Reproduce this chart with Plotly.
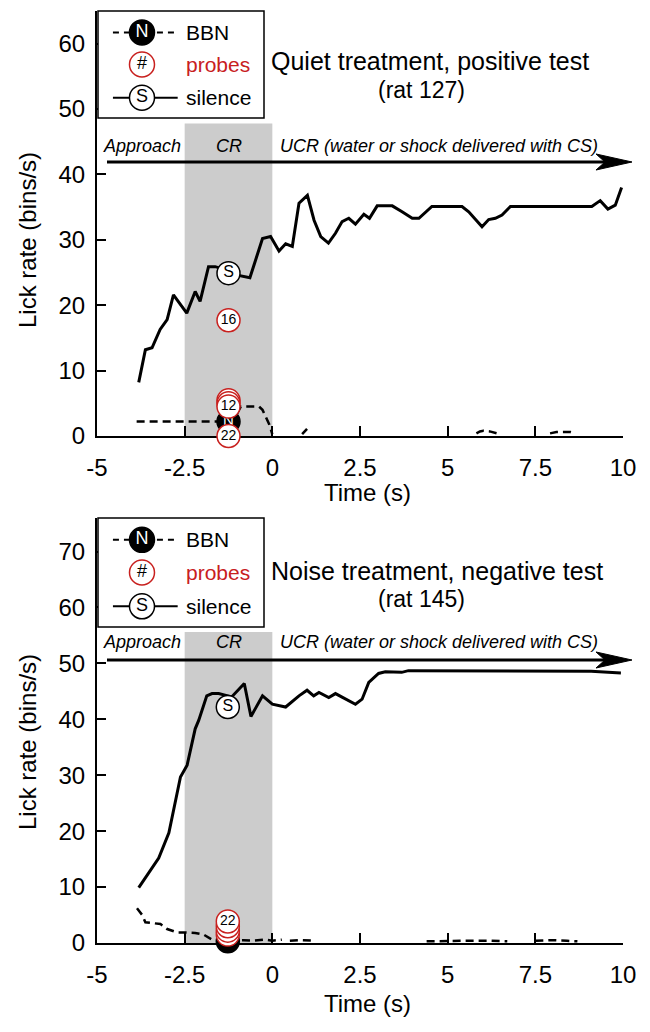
import plotly.graph_objects as go

# ---------------- data ----------------
# time axis ticks
tick_vals = [-5, -2.5, 0, 2.5, 5, 7.5, 10]
tick_text = ["-5", "-2.5", "0", "2.5", "5", "7.5", "10"]

# Top panel: Quiet treatment, positive test (rat 127)
top_silence_t = [-3.81, -3.62, -3.43, -3.2, -3.0, -2.82, -2.44, -2.2, -2.06, -1.82, -1.63, -1.25, -1.0,
                 -0.64, -0.28, -0.05, 0.19, 0.38, 0.57, 0.76, 1.0, 1.19, 1.38, 1.6, 1.8, 1.99, 2.18,
                 2.37, 2.61, 2.77, 2.99, 3.42, 3.7, 3.99, 4.18, 4.55, 5.41, 5.6, 5.98, 6.17, 6.36,
                 6.55, 6.79, 9.11, 9.35, 9.57, 9.78, 9.96]
top_silence_v = [8.2, 13.2, 13.5, 16.3, 17.8, 21.6, 18.8, 22.1, 20.6, 25.9, 25.9, 25.3, 24.6,
                 24.2, 30.2, 30.5, 28.3, 29.4, 29.0, 35.6, 36.8, 33.0, 30.5, 29.5, 31.0, 32.8, 33.3,
                 32.4, 33.9, 33.3, 35.2, 35.2, 34.3, 33.3, 33.3, 35.1, 35.1, 34.3, 32.0, 33.1, 33.3,
                 33.8, 35.1, 35.1, 36.0, 34.7, 35.3, 38.0]
top_bbn_t = [-3.87, -3.0, -2.5, -1.6, -1.25, -1.0, -0.9, -0.6, -0.38, -0.28, -0.09, 0.0, None,
             0.85, 0.92, 0.99, None, 5.82, 5.92, 6.02, 6.2, 6.4, None, 7.92, 8.1, 8.3, 8.5, 8.62]
top_bbn_v = [2.2, 2.2, 2.2, 2.2, 2.2, 3.5, 4.5, 4.5, 4.5, 4.0, 1.8, 0.3, None,
             0.3, 0.7, 1.1, None, 0.4, 0.7, 0.8, 0.7, 0.4, None, 0.4, 0.6, 0.6, 0.6, 0.4]
top_cr_time = -1.25
top_bbn_mean = [2.2]
top_probe_vals = [5.45, 5.0, 4.5, 17.7, 0.0]
top_probe_labels = ["", "", "12", "16", "22"]
top_silence_mean = [24.9]

# Bottom panel: Noise treatment, negative test (rat 145)
bot_silence_t = [-3.81, -3.52, -3.24, -2.95, -2.62, -2.43, -2.2, -2.1, -1.87, -1.72, -1.53, -1.16,
                 -0.8, -0.61, -0.28, 0.0, 0.38, 0.76, 0.99, 1.18, 1.33, 1.61, 1.8, 2.37, 2.56, 2.75,
                 3.03, 3.22, 3.69, 3.88, 9.09, 9.94]
bot_silence_v = [9.9, 12.6, 15.2, 19.7, 29.7, 31.8, 38.3, 39.8, 44.2, 44.6, 44.6, 44.0,
                 46.4, 40.5, 44.2, 42.7, 42.2, 44.2, 45.2, 44.2, 44.8, 43.9, 44.6, 42.7, 43.6, 46.6,
                 48.2, 48.5, 48.4, 48.7, 48.6, 48.3]
bot_bbn_t = [-3.86, -3.71, -3.62, -3.38, -3.19, -3.0, -2.72, -2.58, -2.2, -1.96, -1.72, -1.4, -1.1,
             -0.82, -0.54, -0.2, 0.0, 0.27, None, 0.5, 0.8, 1.2, None, 4.4, 5.0, 5.6, 6.2, 6.7,
             None, 7.5, 8.0, 8.4, 8.7]
bot_bbn_v = [6.2, 5.0, 3.7, 3.55, 3.4, 2.5, 1.9, 1.9, 1.8, 1.5, 0.6, 0.5, 0.4,
             0.5, 0.4, 0.6, 0.4, 0.6, None, 0.4, 0.5, 0.4, None, 0.3, 0.4, 0.4, 0.4, 0.3,
             None, 0.4, 0.5, 0.4, 0.3]
bot_cr_time = -1.27
bot_bbn_mean = [0.3]
bot_probe_vals = [1.5, 2.2, 3.0, 3.85]
bot_probe_labels = ["", "", "", "22"]
bot_silence_mean = [42.2]

panel_titles = ["Quiet treatment, positive test", "Noise treatment, negative test"]
panel_rats = ["(rat 127)", "(rat 145)"]
y_ranges = [[0, 65], [0, 76]]
y_ticks = [[0, 10, 20, 30, 40, 50, 60], [0, 10, 20, 30, 40, 50, 60, 70]]
cr_shade_top = [47.8, 55.6]
phase_label_y = [44.4, 53.8]

# ---------------- layout helpers ----------------
W, H = 650, 1032
ML, MR, MT, MB = 97, 27, 11, 89
PW, PH = W - ML - MR, H - MT - MB


def px_x(p):
    return (p - ML) / PW


def px_y(p):
    return (H - MB - p) / PH


FONT = "Liberation Sans, Arial, Helvetica, sans-serif"
RED = "#c8201e"
BLACK = "#000000"
GREY = "#cccccc"

fig = go.Figure()

panels = [
    dict(xa="x", ya="y", sil_t=top_silence_t, sil_v=top_silence_v, bbn_t=top_bbn_t, bbn_v=top_bbn_v,
         cr=top_cr_time, bbn_mean=top_bbn_mean, probes=top_probe_vals, plabels=top_probe_labels,
         sil_mean=top_silence_mean),
    dict(xa="x2", ya="y2", sil_t=bot_silence_t, sil_v=bot_silence_v, bbn_t=bot_bbn_t, bbn_v=bot_bbn_v,
         cr=bot_cr_time, bbn_mean=bot_bbn_mean, probes=bot_probe_vals, plabels=bot_probe_labels,
         sil_mean=bot_silence_mean),
]

MK = 23
for p in panels:
    fig.add_trace(go.Scatter(x=p["sil_t"], y=p["sil_v"], xaxis=p["xa"], yaxis=p["ya"], mode="lines",
                             line=dict(color=BLACK, width=3), showlegend=False, hoverinfo="skip"))
    fig.add_trace(go.Scatter(x=p["bbn_t"], y=p["bbn_v"], xaxis=p["xa"], yaxis=p["ya"], mode="lines",
                             line=dict(color=BLACK, width=2.5, dash="8px,5px"), connectgaps=False,
                             showlegend=False, hoverinfo="skip"))
    # BBN mean marker (behind)
    fig.add_trace(go.Scatter(x=[p["cr"]] * len(p["bbn_mean"]), y=p["bbn_mean"], xaxis=p["xa"], yaxis=p["ya"],
                             mode="markers+text", text=["N"] * len(p["bbn_mean"]), textposition="middle center",
                             textfont=dict(family=FONT, size=15, color="white"),
                             marker=dict(size=MK, color=BLACK, line=dict(color=BLACK, width=1.5)),
                             cliponaxis=False, showlegend=False, hoverinfo="skip"))
    # probes, drawn one by one so later ones sit on top
    for v, lab in zip(p["probes"], p["plabels"]):
        fig.add_trace(go.Scatter(x=[p["cr"]], y=[v], xaxis=p["xa"], yaxis=p["ya"],
                                 mode="markers+text", text=[lab], textposition="middle center",
                                 textfont=dict(family=FONT, size=14, color=BLACK),
                                 marker=dict(size=MK, color="white", line=dict(color=RED, width=1.5)),
                                 cliponaxis=False, showlegend=False, hoverinfo="skip"))
    fig.add_trace(go.Scatter(x=[p["cr"]] * len(p["sil_mean"]), y=p["sil_mean"], xaxis=p["xa"], yaxis=p["ya"],
                             mode="markers+text", text=["S"] * len(p["sil_mean"]), textposition="middle center",
                             textfont=dict(family=FONT, size=16, color=BLACK),
                             marker=dict(size=MK, color="white", line=dict(color=BLACK, width=1.5)),
                             cliponaxis=False, showlegend=False, hoverinfo="skip"))

# legend overlays (axes x3/y3 and x4/y4, range 0..1)
legend_rows_y = [0.80, 0.50, 0.19]
for xa, ya in [("x3", "y3"), ("x4", "y4")]:
    fig.add_trace(go.Scatter(x=[0.09, 0.48], y=[legend_rows_y[0]] * 2, xaxis=xa, yaxis=ya, mode="lines",
                             line=dict(color=BLACK, width=2, dash="6px,5px"), showlegend=False, hoverinfo="skip"))
    fig.add_trace(go.Scatter(x=[0.09, 0.48], y=[legend_rows_y[2]] * 2, xaxis=xa, yaxis=ya, mode="lines",
                             line=dict(color=BLACK, width=2), showlegend=False, hoverinfo="skip"))
    fig.add_trace(go.Scatter(x=[0.265], y=[legend_rows_y[0]], xaxis=xa, yaxis=ya, mode="markers+text",
                             text=["N"], textposition="middle center",
                             textfont=dict(family=FONT, size=18, color="white"),
                             marker=dict(size=25, color=BLACK, line=dict(color=BLACK, width=1.5)),
                             showlegend=False, hoverinfo="skip"))
    fig.add_trace(go.Scatter(x=[0.265], y=[legend_rows_y[1]], xaxis=xa, yaxis=ya, mode="markers+text",
                             text=["#"], textposition="middle center",
                             textfont=dict(family=FONT, size=18, color=BLACK),
                             marker=dict(size=25, color="white", line=dict(color=RED, width=1.5)),
                             showlegend=False, hoverinfo="skip"))
    fig.add_trace(go.Scatter(x=[0.265], y=[legend_rows_y[2]], xaxis=xa, yaxis=ya, mode="markers+text",
                             text=["S"], textposition="middle center",
                             textfont=dict(family=FONT, size=18, color=BLACK),
                             marker=dict(size=25, color="white", line=dict(color=BLACK, width=1.5)),
                             showlegend=False, hoverinfo="skip"))

legend_names = ["BBN", "probes", "silence"]
legend_colors = [BLACK, RED, BLACK]

annotations = []
shapes = []

top_dom = [px_y(436), 1.0]
bot_dom = [0.0, px_y(518)]
leg_top_dom = [px_y(118), px_y(11)]
leg_bot_dom = [px_y(627), px_y(518)]

for i, (xa, ya, lxa, lya) in enumerate([("x", "y", "x3", "y3"), ("x2", "y2", "x4", "y4")]):
    # CR shading
    shapes.append(dict(type="rect", xref=xa, yref=ya, x0=-2.5, x1=0, y0=0, y1=cr_shade_top[i],
                       fillcolor=GREY, line=dict(width=0), layer="below"))
    # phase labels
    for txt, xv, anchor in [("Approach", -3.72, "center"), ("CR", -1.25, "center"),
                            ("UCR (water or shock delivered with CS)", 0.16, "left")]:
        annotations.append(dict(x=xv, y=phase_label_y[i], xref=xa, yref=ya, text="<i>%s</i>" % txt,
                                showarrow=False, xanchor=anchor, yanchor="middle",
                                font=dict(family=FONT, size=18, color=BLACK)))
    # legend texts
    for j, (nm, col) in enumerate(zip(legend_names, legend_colors)):
        annotations.append(dict(x=0.52, y=legend_rows_y[j], xref=lxa, yref=lya, text=nm, showarrow=False,
                                xanchor="left", yanchor="middle", font=dict(family=FONT, size=21, color=col)))

# legend boxes
for dom in [leg_top_dom, leg_bot_dom]:
    shapes.append(dict(type="rect", xref="paper", yref="paper", x0=px_x(98), x1=px_x(264),
                       y0=dom[0], y1=dom[1], line=dict(color=BLACK, width=1.5), fillcolor="rgba(0,0,0,0)"))

# arrows (shaft + barbed head) in paper coordinates
for ay_px in [162, 660]:
    shapes.append(dict(type="line", xref="paper", yref="paper", x0=px_x(107), x1=px_x(612),
                       y0=px_y(ay_px), y1=px_y(ay_px), line=dict(color=BLACK, width=3)))
    path = "M %f,%f L %f,%f L %f,%f L %f,%f Z" % (
        px_x(632), px_y(ay_px), px_x(596), px_y(ay_px - 8), px_x(605), px_y(ay_px),
        px_x(596), px_y(ay_px + 8))
    shapes.append(dict(type="path", xref="paper", yref="paper", path=path,
                       fillcolor=BLACK, line=dict(color=BLACK, width=1)))

# panel titles
for i, (ty, ry) in enumerate([(61, 90), (571, 599)]):
    annotations.append(dict(x=px_x(269), y=px_y(ty), xref="paper", yref="paper", text=panel_titles[i],
                            showarrow=False, xanchor="left", yanchor="middle",
                            font=dict(family=FONT, size=25, color=BLACK)))
    annotations.append(dict(x=px_x(421), y=px_y(ry), xref="paper", yref="paper", text=panel_rats[i],
                            showarrow=False, xanchor="center", yanchor="middle",
                            font=dict(family=FONT, size=23, color=BLACK)))

# axis titles
for yc, xt in [(240, 492), (742, 1003)]:
    annotations.append(dict(x=px_x(27), y=px_y(yc), xref="paper", yref="paper", text="Lick rate (bins/s)",
                            showarrow=False, textangle=-90, xanchor="center", yanchor="middle",
                            font=dict(family=FONT, size=24, color=BLACK)))
    annotations.append(dict(x=px_x(367), y=px_y(xt), xref="paper", yref="paper", text="Time (s)",
                            showarrow=False, xanchor="center", yanchor="middle",
                            font=dict(family=FONT, size=24, color=BLACK)))

xcommon = dict(range=[-5, 10], tickvals=tick_vals, ticktext=tick_text, ticks="inside", ticklen=10,
               tickwidth=2, tickcolor=BLACK, showline=True, linewidth=2, linecolor=BLACK, showgrid=False,
               zeroline=False, tickfont=dict(family=FONT, size=24, color=BLACK), ticklabelstandoff=9,
               layer="below traces", fixedrange=True)
ycommon = dict(ticks="inside", ticklen=9, tickwidth=2, tickcolor=BLACK, showline=True, linewidth=2,
               linecolor=BLACK, showgrid=False, zeroline=False,
               tickfont=dict(family=FONT, size=24, color=BLACK), ticklabelstandoff=5, fixedrange=True)
hidden = dict(range=[0, 1], visible=False, fixedrange=True, showgrid=False, zeroline=False)

fig.update_layout(
    width=W, height=H, margin=dict(l=ML, r=MR, t=MT, b=MB),
    paper_bgcolor="white", plot_bgcolor="white", showlegend=False,
    xaxis=dict(domain=[0, 1], anchor="y", **xcommon),
    yaxis=dict(domain=top_dom, anchor="x", range=y_ranges[0], tickvals=y_ticks[0], **ycommon),
    xaxis2=dict(domain=[0, 1], anchor="y2", **xcommon),
    yaxis2=dict(domain=bot_dom, anchor="x2", range=y_ranges[1], tickvals=y_ticks[1], **ycommon),
    xaxis3=dict(domain=[px_x(98), px_x(264)], anchor="y3", **hidden),
    yaxis3=dict(domain=leg_top_dom, anchor="x3", **hidden),
    xaxis4=dict(domain=[px_x(98), px_x(264)], anchor="y4", **hidden),
    yaxis4=dict(domain=leg_bot_dom, anchor="x4", **hidden),
    shapes=shapes, annotations=annotations,
)

fig.write_html("out.html", config={"displayModeBar": False},
               post_script="document.body.style.margin='0';")
